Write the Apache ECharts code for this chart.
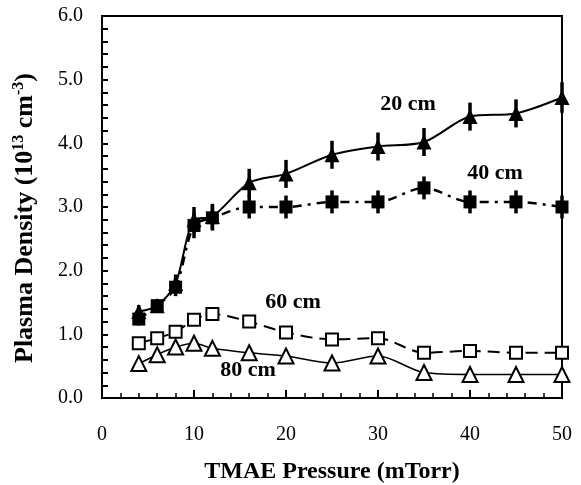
<!DOCTYPE html>
<html>
<head>
<meta charset="utf-8">
<script src="https://cdn.jsdelivr.net/npm/echarts@6/dist/echarts.min.js"></script>
<style>
  html, body { margin: 0; padding: 0; background: #fff; }
  #chart { width: 581px; height: 485px; }
</style>
</head>
<body>
<div id="chart"></div>
<script>
// TMAE pressure (mTorr) at which each distance was measured
const pressure = [4, 6, 8, 10, 12, 16, 20, 25, 30, 35, 40, 45, 50];

// plasma density, 10^13 cm^-3
const d20 = [1.36, 1.45, 1.8, 2.8, 2.85, 3.38, 3.52, 3.82, 3.95, 4.02, 4.42, 4.47, 4.72];
const d40 = [1.24, 1.45, 1.74, 2.71, 2.83, 3.0, 3.0, 3.08, 3.08, 3.3, 3.08, 3.08, 3.0];
const d60 = [0.86, 0.94, 1.04, 1.23, 1.32, 1.2, 1.03, 0.92, 0.94, 0.71, 0.74, 0.71, 0.71];
const d80 = [0.54, 0.68, 0.8, 0.86, 0.78, 0.71, 0.66, 0.55, 0.66, 0.4, 0.37, 0.37, 0.37];

// error bar half-heights
const e20 = [0.1, 0.1, 0.14, 0.2, 0.2, 0.22, 0.22, 0.22, 0.22, 0.22, 0.22, 0.22, 0.24];
const e40 = [0.1, 0.1, 0.14, 0.2, 0.2, 0.18, 0.18, 0.18, 0.18, 0.18, 0.18, 0.18, 0.18];

const serif = "'Liberation Serif', 'DejaVu Serif', serif";

function pairs(ys) {
  return pressure.map((x, i) => [x, ys[i]]);
}

function errData(ys, es) {
  return pressure.map((x, i) => [x, ys[i] - es[i], ys[i] + es[i]]);
}

function errSeries(ys, es) {
  return {
    type: "custom",
    data: errData(ys, es),
    z: 3,
    silent: true,
    renderItem: (params, api) => {
      const lo = api.coord([api.value(0), api.value(1)]);
      const hi = api.coord([api.value(0), api.value(2)]);
      return {
        type: "line",
        shape: { x1: lo[0], y1: lo[1], x2: hi[0], y2: hi[1] },
        style: { stroke: "#000", lineWidth: 3.5 },
      };
    },
  };
}

function tag(text, x, y) {
  return {
    type: "text",
    x: x,
    y: y,
    style: { text: text, font: "bold 22px " + serif, fill: "#000", align: "center", verticalAlign: "middle" },
  };
}

const chart = echarts.init(document.getElementById("chart"), null, { renderer: "canvas" });

const axisLine = { lineStyle: { color: "#000", width: 2 } };

chart.setOption({
  backgroundColor: "#fff",
  animation: false,
  grid: {
    left: 102,
    right: 19,
    top: 16,
    bottom: 87,
    outerBoundsMode: "none",
    show: true,
    borderColor: "#000",
    borderWidth: 2,
  },
  xAxis: {
    type: "value",
    min: 0,
    max: 50,
    interval: 10,
    name: "TMAE Pressure (mTorr)",
    nameLocation: "middle",
    nameGap: 62,
    nameTextStyle: { fontFamily: serif, fontWeight: "bold", fontSize: 24, color: "#000" },
    axisLine: axisLine,
    axisTick: { inside: true, length: 8, lineStyle: { color: "#000", width: 2 } },
    minorTick: { show: true, splitNumber: 5, length: 5, lineStyle: { color: "#000", width: 1.5 } },
    axisLabel: { fontFamily: serif, fontSize: 20, color: "#000", margin: 27 },
    splitLine: { show: false },
  },
  yAxis: {
    type: "value",
    min: 0,
    max: 6,
    interval: 1,
    name: "{a|Plasma Density (10}{s|13}{a| cm}{s|-3}{a|)}",
    nameLocation: "middle",
    nameGap: 62,
    nameTextStyle: {
      color: "#000",
      padding: [0, 22, 0, 0],
      rich: {
        a: { fontFamily: serif, fontWeight: "bold", fontSize: 26, color: "#000", lineHeight: 30 },
        s: { fontFamily: serif, fontWeight: "bold", fontSize: 16, color: "#000", padding: [0, 0, 13, 0] },
      },
    },
    axisLine: axisLine,
    axisTick: { inside: true, length: 6, lineStyle: { color: "#000", width: 2 } },
    minorTick: { show: true, splitNumber: 5, length: 6, lineStyle: { color: "#000", width: 2 } },
    axisLabel: {
      fontFamily: serif,
      fontSize: 20,
      color: "#000",
      margin: 19,
      formatter: (v) => v.toFixed(1),
    },
    splitLine: { show: false },
  },
  graphic: [
    tag("20 cm", 408, 104),
    tag("40 cm", 495, 173),
    tag("60 cm", 293, 302),
    tag("80 cm", 248, 370),
  ],
  series: [
    errSeries(d20, e20),
    errSeries(d40, e40),
    {
      name: "20 cm",
      type: "line",
      data: pairs(d20),
      smooth: 0.3,
      symbol: "triangle",
      symbolSize: 15,
      lineStyle: { color: "#000", width: 2 },
      itemStyle: { color: "#000" },
      z: 4,
    },
    {
      name: "40 cm",
      type: "line",
      data: pairs(d40),
      smooth: 0.3,
      symbol: "rect",
      symbolSize: 13,
      lineStyle: { color: "#000", width: 2.5, type: [9, 6, 3, 6] },
      itemStyle: { color: "#000" },
      z: 4,
    },
    {
      name: "60 cm",
      type: "line",
      data: pairs(d60),
      smooth: 0.3,
      symbol: "emptyRect",
      symbolSize: 12,
      lineStyle: { color: "#000", width: 2, type: [12, 7] },
      itemStyle: { color: "#000", borderWidth: 1.8 },
      z: 4,
    },
    {
      name: "80 cm",
      type: "line",
      data: pairs(d80),
      smooth: 0.3,
      symbol: "emptyTriangle",
      symbolSize: 15,
      lineStyle: { color: "#000", width: 1.5 },
      itemStyle: { color: "#000", borderWidth: 1.8 },
      z: 4,
    },
  ],
});
</script>
</body>
</html>
